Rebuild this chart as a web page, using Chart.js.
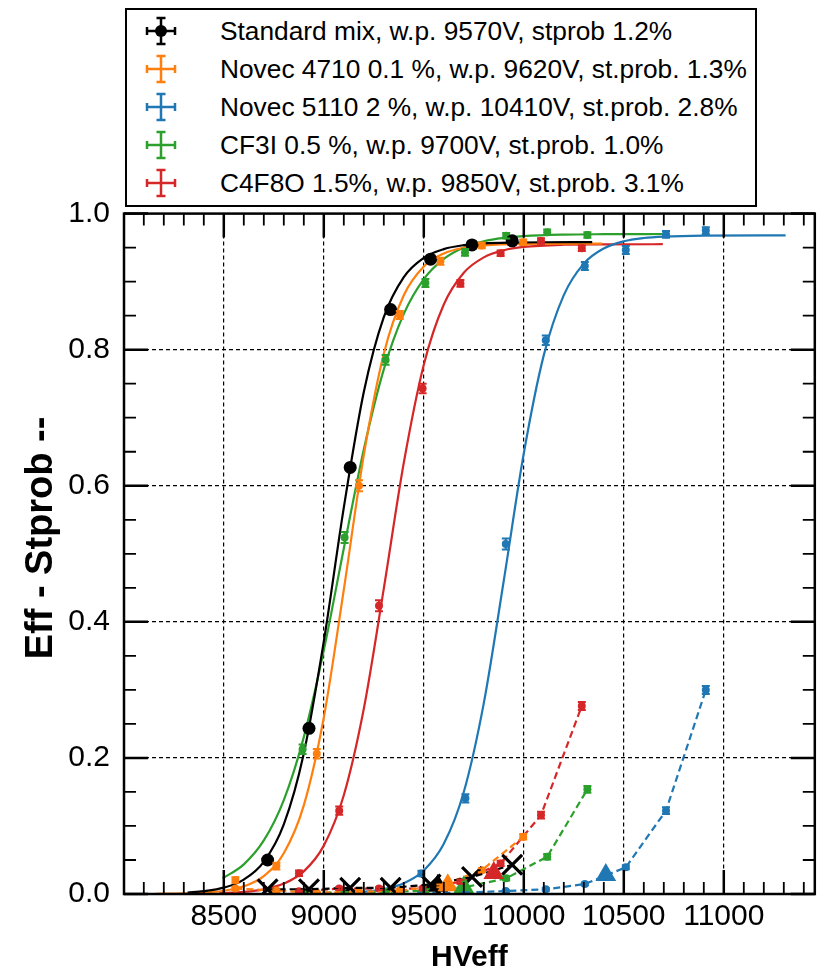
<!DOCTYPE html>
<html>
<head>
<meta charset="utf-8">
<script src="https://cdn.jsdelivr.net/npm/chart.js@4.4.1/dist/chart.umd.min.js"></script>
<style>
  html, body { margin: 0; padding: 0; background: #fff; }
  #wrap { position: relative; width: 832px; height: 972px; }
  #c { position: absolute; left: 0; top: 0; }
  #legend { position: absolute; left: 125px; top: 8px; width: 628px; height: 195px;
    border: 2.5px solid #000; background: #fff; font-family: 'Liberation Sans', Arial, sans-serif; font-size: 26.3px; color: #000; }
  .row { position: absolute; left: 0; height: 36px; line-height: 36px; white-space: nowrap; }
  .row svg { position: absolute; left: 14px; top: 0; }
  .row span { position: absolute; left: 93px; top: 0; }
</style>
</head>
<body>
<div id="wrap">
  <canvas id="c" width="832" height="972"></canvas>
  <div id="legend"></div>
</div>
<script>
// ---------------- data ----------------
const legendLabels = [
  'Standard mix, w.p. 9570V, stprob 1.2%',
  'Novec 4710 0.1 %, w.p. 9620V, st.prob. 1.3%',
  'Novec 5110 2 %, w.p. 10410V, st.prob. 2.8%',
  'CF3I 0.5 %, w.p. 9700V, st.prob. 1.0%',
  'C4F8O 1.5%, w.p. 9850V, st.prob. 3.1%'
];
const seriesColors = ['#000000', '#ff7f0e', '#1f77b4', '#2ca02c', '#d62728'];

// Standard mix
const stdHV  = [8719, 8926, 9132, 9334, 9534, 9741, 9942];
const stdEff = [0.050, 0.2435, 0.627, 0.859, 0.933, 0.954, 0.960];
const stdStp = [0.007, 0.007, 0.009, 0.009, 0.014, 0.025, 0.043];
// Novec 4710
const n47HV  = [8558, 8763, 8965, 9176, 9380, 9583, 9790, 9997];
const n47Eff = [0.0206, 0.041, 0.206, 0.600, 0.851, 0.930, 0.953, 0.958];
const n47EffErr = [0.004, 0.005, 0.007, 0.008, 0.006, 0.005, 0.004, 0.004];
const n47Stp = [0.008, 0.005, 0.002, 0.003, 0.005, 0.012, 0.035, 0.084];
const n47StpErr = [0.002, 0.002, 0.001, 0.001, 0.002, 0.002, 0.003, 0.004];
// Novec 5110
const n51HV  = [9488, 9708, 9910, 10110, 10305, 10510, 10711, 10910];
const n51Eff = [0.030, 0.1406, 0.5144, 0.814, 0.923, 0.9465, 0.9695, 0.975];
const n51EffErr = [0.004, 0.006, 0.008, 0.007, 0.006, 0.006, 0.005, 0.005];
const n51Stp = [0.001, 0.002, 0.0044, 0.0069, 0.0147, 0.0392, 0.1225, 0.2998];
const n51StpErr = [0.001, 0.001, 0.001, 0.002, 0.002, 0.003, 0.005, 0.006];
// CF3I
const cf3HV  = [8894, 9104, 9309, 9508, 9706, 9912, 10117, 10318];
const cf3Eff = [0.2126, 0.524, 0.785, 0.898, 0.943, 0.9675, 0.9725, 0.9686];
const cf3EffErr = [0.007, 0.008, 0.007, 0.006, 0.005, 0.004, 0.004, 0.004];
const cf3Stp = [0.002, 0.002, 0.003, 0.005, 0.010, 0.023, 0.0548, 0.1539];
const cf3StpErr = [0.001, 0.001, 0.001, 0.002, 0.002, 0.003, 0.004, 0.005];
// C4F8O
const c4HV  = [8876, 9077, 9276, 9494, 9683, 9884, 10086, 10290];
const c4Eff = [0.0304, 0.1225, 0.4237, 0.743, 0.8974, 0.9416, 0.9597, 0.949];
const c4EffErr = [0.004, 0.006, 0.008, 0.007, 0.005, 0.004, 0.004, 0.004];
const c4Stp = [0.004, 0.008, 0.008, 0.008, 0.018, 0.045, 0.116, 0.2763];
const c4StpErr = [0.001, 0.002, 0.002, 0.002, 0.003, 0.004, 0.005, 0.006];

// working points (HV, streamer probability)
const wpHV  = [9570, 9620, 10410, 9700, 9850];
const wpStp = [0.012, 0.013, 0.028, 0.010, 0.031];

// fitted sigmoid curves
const fitStdHV  = [8319, 8400, 8500, 8600, 8700, 8800, 8900, 9000, 9100, 9200, 9300, 9400, 9500, 9600, 9700, 9800, 9942, 10100, 10342];
const fitStdEff = [0.0021, 0.0041, 0.0093, 0.0212, 0.0473, 0.1023, 0.2066, 0.3712, 0.5678, 0.7377, 0.8478, 0.9067, 0.9350, 0.9478, 0.9536, 0.9561, 0.9574, 0.9579, 0.958];
const fitN47HV  = [8158, 8300, 8400, 8500, 8600, 8700, 8800, 8900, 9000, 9100, 9200, 9300, 9400, 9500, 9600, 9700, 9800, 10000, 10392];
const fitN47Eff = [0.0003, 0.0009, 0.0021, 0.0048, 0.0113, 0.0263, 0.0598, 0.1302, 0.2594, 0.4472, 0.6451, 0.7940, 0.8799, 0.9222, 0.9414, 0.9498, 0.9533, 0.9555, 0.956];
const fitN51HV  = [9088, 9200, 9300, 9400, 9500, 9600, 9700, 9800, 9900, 10000, 10100, 10200, 10300, 10400, 10500, 10600, 10700, 10900, 11309];
const fitN51Eff = [0.0013, 0.0032, 0.0072, 0.0158, 0.0346, 0.0737, 0.1499, 0.2806, 0.4608, 0.6477, 0.7920, 0.8802, 0.9265, 0.9488, 0.9593, 0.9641, 0.9662, 0.9676, 0.968];
const fitCf3HV  = [8494, 8600, 8700, 8800, 8900, 9000, 9100, 9200, 9300, 9400, 9500, 9600, 9700, 9800, 9900, 10000, 10200, 10400, 10703];
const fitCf3Eff = [0.0229, 0.0436, 0.0787, 0.1381, 0.2306, 0.3581, 0.5079, 0.6534, 0.7711, 0.8527, 0.9038, 0.9335, 0.9503, 0.9594, 0.9643, 0.9670, 0.9691, 0.9697, 0.970];
const fitC4HV   = [8476, 8600, 8700, 8800, 8900, 9000, 9100, 9200, 9300, 9400, 9500, 9600, 9700, 9800, 9900, 10000, 10200, 10400, 10695];
const fitC4Eff  = [0.0012, 0.0031, 0.0069, 0.0153, 0.0333, 0.0711, 0.1451, 0.2722, 0.4489, 0.6338, 0.7779, 0.8664, 0.9131, 0.9357, 0.9462, 0.9510, 0.9542, 0.9548, 0.955];

// axis
const xMin = 8001, xMax = 11455, xMinorStep = 100, xMajorStep = 500;
const yMin = 0, yMax = 1, yMinorStep = 0.05, yMajorStep = 0.2;
const xTitle = 'HVeff';
const yTitle = '   Eff - Stprob --';

// ---------------- helpers ----------------
const pts = (xs, ys) => xs.map((x, i) => ({x: x, y: ys[i]}));
const FONT = "'Liberation Sans', Arial, sans-serif";

function fitDs(xs, ys, color, order) {
  return {data: pts(xs, ys), showLine: true, borderColor: color, backgroundColor: color, clip: 0,
    borderWidth: 2.2, pointRadius: 0, cubicInterpolationMode: 'monotone', order: order};
}
function markDs(xs, ys, errs, color, order, radius, style) {
  return {data: pts(xs, ys), showLine: false, borderColor: color, backgroundColor: color, clip: 0,
    pointRadius: radius, pointStyle: style || 'circle', pointBorderWidth: 0, errY: errs, order: order};
}
function stpDs(xs, ys, errs, color, order) {
  return {data: pts(xs, ys), showLine: true, borderColor: color, backgroundColor: color, clip: 0,
    borderWidth: 2.2, borderDash: [7, 4], pointRadius: 4, pointBorderWidth: 0, errY: errs, order: order};
}

const datasets = [
  // fitted curves
  fitDs(fitN51HV, fitN51Eff, seriesColors[2], 20),
  fitDs(fitC4HV, fitC4Eff, seriesColors[4], 20),
  fitDs(fitCf3HV, fitCf3Eff, seriesColors[3], 19),
  fitDs(fitN47HV, fitN47Eff, seriesColors[1], 18),
  fitDs(fitStdHV, fitStdEff, seriesColors[0], 17),
  // efficiency points
  markDs(n51HV, n51Eff, n51EffErr, seriesColors[2], 10, 4),
  markDs(c4HV, c4Eff, c4EffErr, seriesColors[4], 10, 4),
  markDs(cf3HV, cf3Eff, cf3EffErr, seriesColors[3], 9, 4),
  markDs(n47HV, n47Eff, n47EffErr, seriesColors[1], 8, 4),
  markDs(stdHV, stdEff, null, seriesColors[0], 1, 6.5),
  // streamer probability
  stpDs(n51HV, n51Stp, n51StpErr, seriesColors[2], 6),
  stpDs(cf3HV, cf3Stp, cf3StpErr, seriesColors[3], 5),
  stpDs(c4HV, c4Stp, c4StpErr, seriesColors[4], 5),
  stpDs(n47HV, n47Stp, n47StpErr, seriesColors[1], 4),
  {data: pts(stdHV, stdStp), showLine: true, borderColor: '#000', backgroundColor: '#000', borderWidth: 2.2, clip: 0,
    borderDash: [7, 4], pointRadius: 14, pointStyle: 'crossRot', pointBorderWidth: 3.2, order: 3},
  // working points
  {data: pts(wpHV, wpStp), showLine: false, pointStyle: 'triangle', pointRadius: 12, pointBorderWidth: 0, clip: 0,
    pointBackgroundColor: seriesColors, pointBorderColor: seriesColors, order: 2}
];

// ---------------- plugins ----------------
const errorBars = {
  id: 'errorBars',
  afterDatasetsDraw(chart) {
    const {ctx} = chart;
    const ys = chart.scales.y;
    ctx.save();
    ctx.beginPath();
    ctx.rect(chart.chartArea.left, chart.chartArea.top, chart.chartArea.right - chart.chartArea.left, chart.chartArea.bottom - chart.chartArea.top);
    ctx.clip();
    chart.data.datasets.forEach((ds, di) => {
      if (!ds.errY) return;
      const meta = chart.getDatasetMeta(di);
      ctx.strokeStyle = ds.borderColor;
      ctx.lineWidth = 2;
      meta.data.forEach((el, i) => {
        const v = ds.data[i].y, e = ds.errY[i];
        const y1 = ys.getPixelForValue(v - e), y2 = ys.getPixelForValue(v + e);
        const x = el.x, cap = 4;
        ctx.beginPath();
        ctx.moveTo(x, y1); ctx.lineTo(x, y2);
        ctx.moveTo(x - cap, y1); ctx.lineTo(x + cap, y1);
        ctx.moveTo(x - cap, y2); ctx.lineTo(x + cap, y2);
        ctx.stroke();
      });
    });
    ctx.restore();
  }
};

const isMajor = (v, step) => Math.abs(v / step - Math.round(v / step)) < 1e-6;

const frameTicks = {
  id: 'frameTicks',
  afterDraw(chart) {
    const {ctx, chartArea: a} = chart;
    const xs = chart.scales.x, ys = chart.scales.y;
    ctx.save();
    ctx.strokeStyle = '#000';
    xs.ticks.forEach(t => {
      const p = xs.getPixelForValue(t.value);
      const major = isMajor(t.value, xMajorStep);
      const len = major ? 24 : 12;
      ctx.lineWidth = major ? 2.5 : 1.8;
      ctx.beginPath();
      ctx.moveTo(p, a.bottom); ctx.lineTo(p, a.bottom - len);
      ctx.moveTo(p, a.top); ctx.lineTo(p, a.top + len);
      ctx.stroke();
    });
    ys.ticks.forEach(t => {
      const p = ys.getPixelForValue(t.value);
      const major = isMajor(t.value, yMajorStep);
      const len = major ? 24 : 12;
      ctx.lineWidth = major ? 2.5 : 1.8;
      ctx.beginPath();
      ctx.moveTo(a.left, p); ctx.lineTo(a.left + len, p);
      ctx.moveTo(a.right, p); ctx.lineTo(a.right - len, p);
      ctx.stroke();
    });
    ctx.lineWidth = 2.5;
    ctx.strokeRect(a.left, a.top, a.right - a.left, a.bottom - a.top);
    ctx.restore();
  }
};

// ---------------- chart ----------------
new Chart(document.getElementById('c'), {
  type: 'scatter',
  data: {datasets: datasets},
  options: {
    responsive: false,
    animation: false,
    events: [],
    layout: {padding: {top: 213.6, right: 10, left: 0, bottom: 0}},
    plugins: {legend: {display: false}, tooltip: {enabled: false}},
    scales: {
      x: {
        type: 'linear', min: xMin, max: xMax,
        afterFit: s => { s.height = 78; },
        ticks: {stepSize: xMinorStep, autoSkip: false, maxRotation: 0, includeBounds: false, padding: 5,
          color: '#000', font: {family: FONT, size: 30},
          callback: v => isMajor(v, xMajorStep) ? String(v) : ''},
        grid: {drawTicks: false, lineWidth: 1.2,
          color: c => (c.tick && isMajor(c.tick.value, xMajorStep)) ? '#000' : 'rgba(0,0,0,0)'},
        border: {display: false, dash: [4, 3]},
        title: {display: true, text: xTitle, color: '#000', padding: 0,
          font: {family: FONT, size: 30, weight: 'bold', lineHeight: 0.93}}
      },
      y: {
        type: 'linear', min: yMin, max: yMax,
        afterFit: s => { s.width = 124; },
        ticks: {stepSize: yMinorStep, autoSkip: false, includeBounds: false, padding: 14,
          color: '#000', font: {family: FONT, size: 30},
          callback: v => isMajor(v, yMajorStep) ? v.toFixed(1) : ''},
        grid: {drawTicks: false, lineWidth: 1.2,
          color: c => (c.tick && isMajor(c.tick.value, yMajorStep) && c.tick.value > 0.01 && c.tick.value < 0.99) ? '#000' : 'rgba(0,0,0,0)'},
        border: {display: false, dash: [4, 3]},
        title: {display: true, text: yTitle, color: '#000', padding: 19,
          font: {family: FONT, size: 38, weight: 'bold'}}
      }
    }
  },
  plugins: [errorBars, frameTicks]
});

// ---------------- legend (HTML text) ----------------
const legendRowsY = [29, 67, 105, 143, 181];
const lg = document.getElementById('legend');
legendLabels.forEach((txt, i) => {
  const col = seriesColors[i];
  const row = document.createElement('div');
  row.className = 'row';
  row.style.top = (legendRowsY[i] - 18 - 8) + 'px';
  const dot = i === 0 ? `<circle cx="20" cy="18" r="6" fill="${col}"/>` : '';
  row.innerHTML = `<svg width="40" height="36" viewBox="0 0 40 36">
    <g stroke="${col}" stroke-width="2.5" fill="none">
      <line x1="6" y1="18" x2="34" y2="18"/>
      <line x1="6" y1="14" x2="6" y2="22"/>
      <line x1="34" y1="14" x2="34" y2="22"/>
      <line x1="20" y1="5" x2="20" y2="31"/>
      <line x1="15.5" y1="5" x2="24.5" y2="5"/>
      <line x1="15.5" y1="31" x2="24.5" y2="31"/>
    </g>${dot}</svg><span>${txt}</span>`;
  lg.appendChild(row);
});
</script>
</body>
</html>
